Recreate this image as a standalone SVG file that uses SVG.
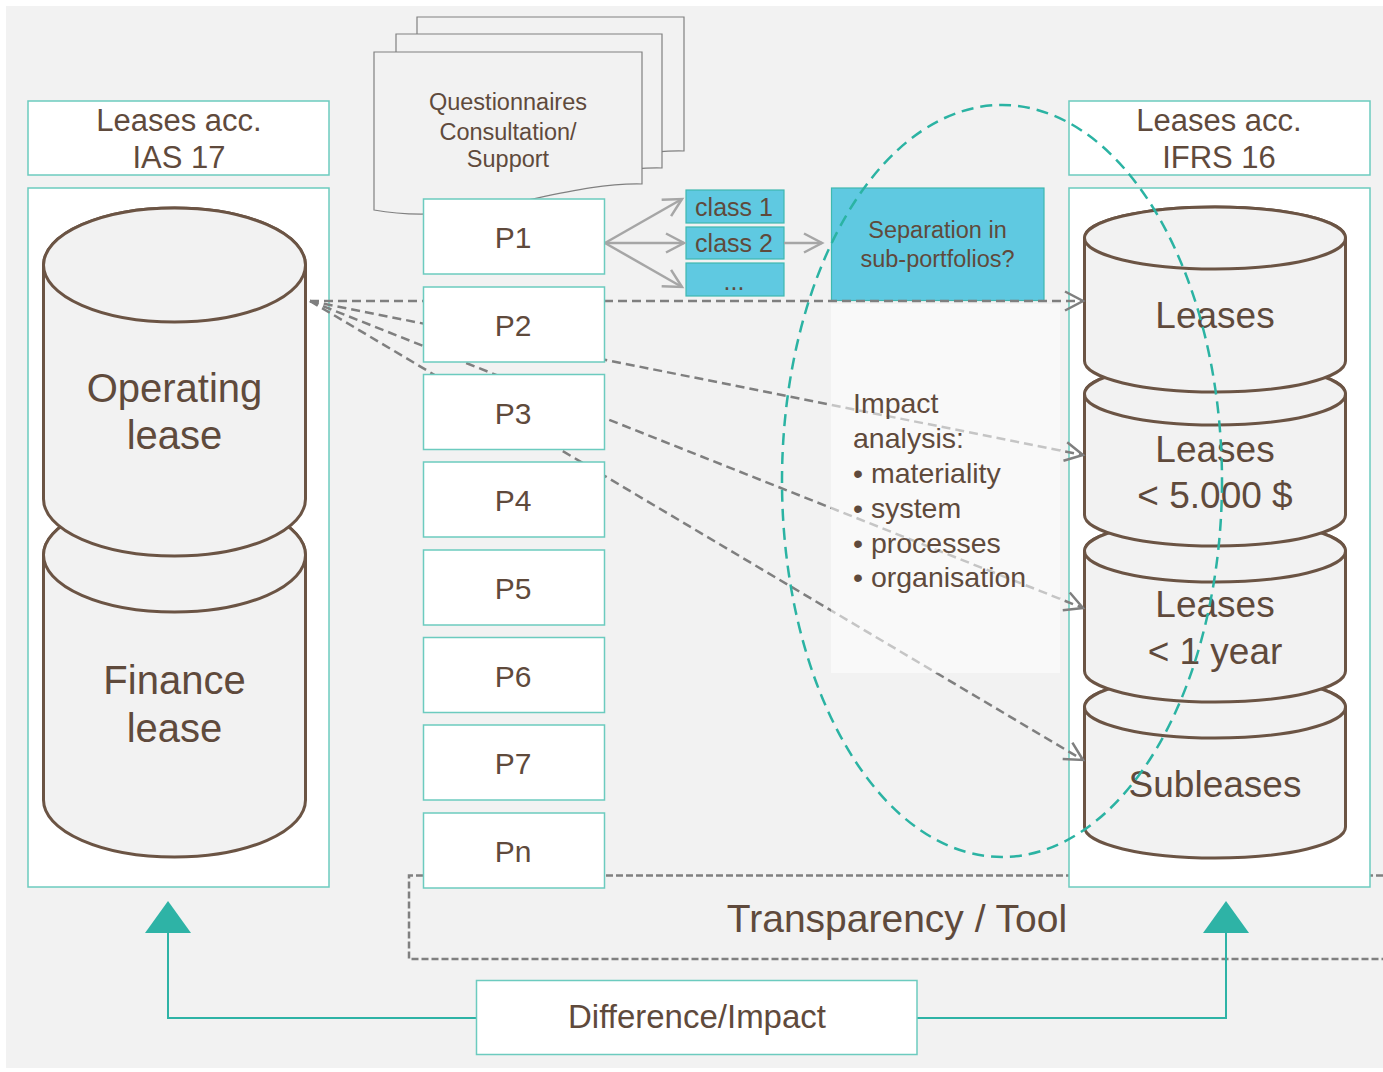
<svg xmlns="http://www.w3.org/2000/svg" width="1383" height="1072" viewBox="0 0 1383 1072">
<style>
text{font-family:"Liberation Sans",Arial,sans-serif;fill:#5f4a3c;text-anchor:middle}
.box{fill:#fff;stroke:#6ccbbf;stroke-width:1.5}
.cyl{fill:#f2f2f2;stroke:#6b5444;stroke-width:3}
.doc{fill:#f2f2f2;stroke:#808080;stroke-width:1.2}
.cls{fill:#5fc9e1;stroke:#3fb8b0;stroke-width:1.2}
.dash{fill:none;stroke:#7f7f7f;stroke-width:2.5;stroke-dasharray:9 5}
.solid{fill:none;stroke:#a6a6a6;stroke-width:2.5}
.teal{fill:none;stroke:#2eb3a6;stroke-width:2}
.p{font-size:30px}
.lt{text-anchor:start}
</style>
<defs>
<marker id="chevG" markerUnits="userSpaceOnUse" markerWidth="24" markerHeight="24" refX="18" refY="9.5" orient="auto" overflow="visible">
<path d="M0,0 L18,9.5 L0,19" fill="none" stroke="#7f7f7f" stroke-width="2.5" stroke-dasharray="none"/>
</marker>
<marker id="chevL" markerUnits="userSpaceOnUse" markerWidth="24" markerHeight="24" refX="18" refY="9.5" orient="auto" overflow="visible">
<path d="M0,0 L18,9.5 L0,19" fill="none" stroke="#a6a6a6" stroke-width="2.5" stroke-dasharray="none"/>
</marker>
</defs>

<rect x="0" y="0" width="1383" height="1072" fill="#fff"/>
<rect x="6" y="6" width="1377" height="1062" fill="#f2f2f2"/>

<g id="transparency-frame">
<path d="M1383,875.5 H409 V959 H1383" fill="none" stroke="#808080" stroke-width="2.5" stroke-dasharray="7 3"/>
</g>

<g id="questionnaires">
<path class="doc" d="M417,17 H684 V151 C602,149 512,195 417,177 Z"/>
<path class="doc" d="M396,34 H662 V168 C580,166 490,212 396,194 Z"/>
<path class="doc" d="M374,52 H642 V184 C560,182 470,228 374,210 Z"/>
<text x="508" y="110" font-size="23.5">Questionnaires</text>
<text x="508" y="140" font-size="23.5">Consultation/</text>
<text x="508" y="167" font-size="23.5">Support</text>
</g>

<g id="ias17">
<rect class="box" x="28" y="101" width="301" height="74"/>
<text x="179" y="131" font-size="31">Leases acc.</text>
<text x="179" y="168" font-size="31">IAS 17</text>
<rect class="box" x="28" y="188" width="301" height="699"/>
</g>
<g id="finance-lease">
<path class="cyl" d="M43.5,555 V800 A131,57 0 0 0 305.5,800 V555 A131,57 0 0 0 43.5,555 Z"/>
<ellipse class="cyl" cx="174.5" cy="555" rx="131" ry="57"/>
<text x="174.5" y="694" font-size="40">Finance</text>
<text x="174.5" y="742" font-size="40">lease</text>
</g>
<g id="operating-lease">
<path class="cyl" d="M43.5,265 V499 A131,57 0 0 0 305.5,499 V265 A131,57 0 0 0 43.5,265 Z"/>
<ellipse class="cyl" cx="174.5" cy="265" rx="131" ry="57"/>
<text x="174.5" y="402" font-size="40">Operating</text>
<text x="174.5" y="449" font-size="40">lease</text>
</g>

<g id="ifrs16">
<rect class="box" x="1069" y="101" width="301" height="74"/>
<text x="1219" y="131" font-size="31">Leases acc.</text>
<text x="1219" y="168" font-size="31">IFRS 16</text>
<rect class="box" x="1069" y="188" width="301" height="699"/>
</g>
<g id="subleases">
<path class="cyl" d="M1084.5,707 V827 A130.5,31 0 0 0 1345.5,827 V707 A130.5,31 0 0 0 1084.5,707 Z"/>
<ellipse class="cyl" cx="1215" cy="707" rx="130.5" ry="31"/>
<text x="1215" y="797" font-size="37">Subleases</text>
</g>
<g id="leases-1-year">
<path class="cyl" d="M1084.5,551 V671 A130.5,31 0 0 0 1345.5,671 V551 A130.5,31 0 0 0 1084.5,551 Z"/>
<ellipse class="cyl" cx="1215" cy="551" rx="130.5" ry="31"/>
<text x="1215" y="617" font-size="37">Leases</text>
<text x="1215" y="664" font-size="37">&lt; 1 year</text>
</g>
<g id="leases-5000">
<path class="cyl" d="M1084.5,394 V515 A130.5,31 0 0 0 1345.5,515 V394 A130.5,31 0 0 0 1084.5,394 Z"/>
<ellipse class="cyl" cx="1215" cy="394" rx="130.5" ry="31"/>
<text x="1215" y="462" font-size="37">Leases</text>
<text x="1215" y="508" font-size="37">&lt; 5.000 $</text>
</g>
<g id="leases">
<path class="cyl" d="M1084.5,238 V361 A130.5,31 0 0 0 1345.5,361 V238 A130.5,31 0 0 0 1084.5,238 Z"/>
<ellipse class="cyl" cx="1215" cy="238" rx="130.5" ry="31"/>
<text x="1215" y="328" font-size="37">Leases</text>
</g>

<g id="class1"><rect class="cls" x="686" y="190" width="98" height="33"/><text x="734" y="216" font-size="25">class 1</text></g>
<g id="class2"><rect class="cls" x="686" y="227" width="98" height="32"/><text x="734" y="252" font-size="25">class 2</text></g>
<g id="class-more"><rect class="cls" x="686" y="263" width="98" height="33"/><text x="734" y="290" font-size="25">...</text></g>

<g id="separation">
<rect class="cls" x="831.5" y="188" width="212.5" height="112.5"/>
<text x="937.5" y="238" font-size="23.5">Separation in</text>
<text x="937.5" y="267" font-size="23.5">sub-portfolios?</text>
</g>

<g id="connectors">
<line class="dash" x1="310" y1="301" x2="1083" y2="301" marker-end="url(#chevG)"/>
<line class="dash" x1="310" y1="301" x2="1083" y2="455" marker-end="url(#chevG)"/>
<line class="dash" x1="310" y1="301" x2="1083" y2="608" marker-end="url(#chevG)"/>
<line class="dash" x1="310" y1="301" x2="1083" y2="760" marker-end="url(#chevG)"/>
<line class="solid" x1="605" y1="243" x2="682" y2="199" marker-end="url(#chevL)"/>
<line class="solid" x1="605" y1="243" x2="684" y2="243" marker-end="url(#chevL)"/>
<line class="solid" x1="605" y1="243" x2="682" y2="287" marker-end="url(#chevL)"/>
<line class="solid" x1="784" y1="243" x2="822" y2="243" marker-end="url(#chevL)"/>
</g>

<g id="impact-analysis">
<rect x="831" y="304" width="229" height="369" fill="#fff" fill-opacity="0.55"/>
<text class="lt" x="853" y="413" font-size="28.5">Impact</text>
<text class="lt" x="853" y="448" font-size="28.5">analysis:</text>
<text class="lt" x="853" y="483" font-size="28.5">• materiality</text>
<text class="lt" x="853" y="518" font-size="28.5">• system</text>
<text class="lt" x="853" y="553" font-size="28.5">• processes</text>
<text class="lt" x="853" y="587" font-size="28.5">• organisation</text>
</g>

<g id="p1"><rect class="box" x="423.5" y="199" width="181" height="75"/><text class="p" x="513" y="248">P1</text></g>
<g id="p2"><rect class="box" x="423.5" y="287" width="181" height="75"/><text class="p" x="513" y="336">P2</text></g>
<g id="p3"><rect class="box" x="423.5" y="374.5" width="181" height="75"/><text class="p" x="513" y="423.5">P3</text></g>
<g id="p4"><rect class="box" x="423.5" y="462" width="181" height="75"/><text class="p" x="513" y="511">P4</text></g>
<g id="p5"><rect class="box" x="423.5" y="550" width="181" height="75"/><text class="p" x="513" y="599">P5</text></g>
<g id="p6"><rect class="box" x="423.5" y="637.5" width="181" height="75"/><text class="p" x="513" y="686.5">P6</text></g>
<g id="p7"><rect class="box" x="423.5" y="725" width="181" height="75"/><text class="p" x="513" y="774">P7</text></g>
<g id="pn"><rect class="box" x="423.5" y="813" width="181" height="75"/><text class="p" x="513" y="862">Pn</text></g>

<g id="difference-links">
<polyline class="teal" points="476,1018 168,1018 168,930"/>
<polyline class="teal" points="917,1018 1226,1018 1226,930"/>
<polygon points="168,901 145,933 191,933" fill="#2eb3a6"/>
<polygon points="1226,901 1203,933 1249,933" fill="#2eb3a6"/>
</g>
<g id="difference-impact">
<rect class="box" x="476.5" y="980.5" width="440.5" height="74"/>
<text x="697" y="1028" font-size="33">Difference/Impact</text>
</g>

<g id="transparency-label">
<text x="897" y="932" font-size="39">Transparency / Tool</text>
</g>

<g id="scope-ellipse">
<ellipse cx="1002" cy="481" rx="220" ry="376" fill="none" stroke="#2bb3a3" stroke-width="2.5" stroke-dasharray="12 7"/>
</g>
</svg>
